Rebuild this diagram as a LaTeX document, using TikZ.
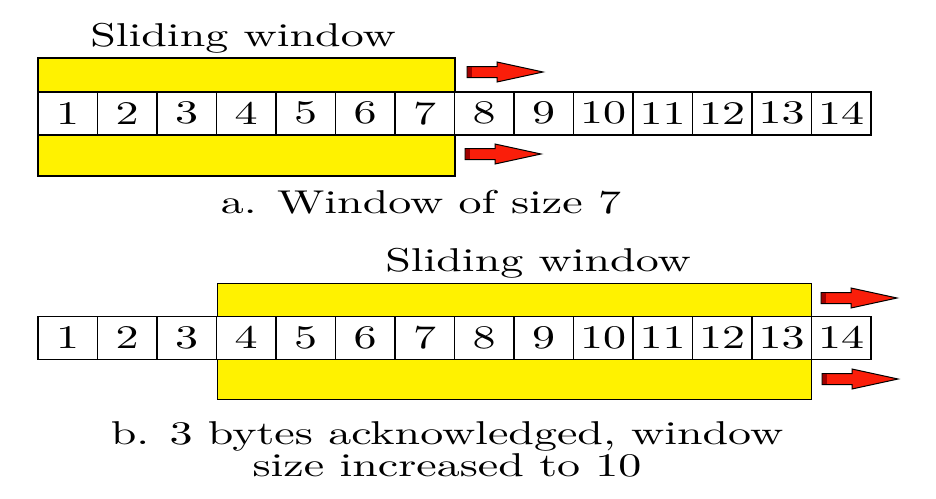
\documentclass[tikz,border=0pt]{standalone}
\definecolor{arrred}{RGB}{250,30,10}
\definecolor{arrdark}{RGB}{160,0,0}
\newcommand\wide[1]{\scalebox{4.6}[3.3]{\fontsize{10}{12}\selectfont #1}}
\tikzset{
  cell/.style={draw, fill=white, line width=1.6pt, minimum width=59.5pt, minimum height=43pt,
    inner sep=0pt, anchor=north west},
  winband/.style={draw, fill=yellow, line width=1.6pt, inner sep=0pt, anchor=north west},
  lbl/.style={inner sep=0pt, anchor=base},
  pics/movearrow/.style={code={
    \draw[fill=arrred, line width=1pt, line join=miter]
      (0,-5.5) -- (30,-5.5) -- (30,-10) -- (76,0) -- (30,10) -- (30,5.5) -- (0,5.5) -- cycle;
    \fill[arrdark] (0.6,-4.9) rectangle (5,4.9);
  }}
}
\begin{document}
\begin{tikzpicture}[x=1pt,y=-1pt]
\useasboundingbox (0,0) rectangle (936,498);
% part a
\node[winband, minimum width=417pt, minimum height=118pt] (wa) at (37,57) {};
\foreach \i in {1,...,14} \node[cell] (a\i) at ({37+59.5*(\i-1)},91) {\wide{\i}};
\node[lbl] (ta) at (243,46) {\wide{Sliding window}};
\pic (arA1) at (467,72) {movearrow};
\pic (arA2) at (465,154) {movearrow};
\node[lbl] (ca) at (421,213) {\wide{a. Window of size 7}};
% part b
\node[winband, minimum width=594pt, minimum height=116pt] (wb) at (216.5,282.5) {};
\foreach \i in {1,...,14} \node[cell] (b\i) at ({37+59.5*(\i-1)},315.5) {\wide{\i}};
\node[lbl] (tb) at (538,271) {\wide{Sliding window}};
\pic (arB1) at (821,298) {movearrow};
\pic (arB2) at (822,379) {movearrow};
\node[lbl] (cb1) at (447,444) {\wide{b. 3 bytes acknowledged, window}};
\node[lbl] (cb2) at (447,476) {\wide{size increased to 10}};
\end{tikzpicture}
\end{document}
